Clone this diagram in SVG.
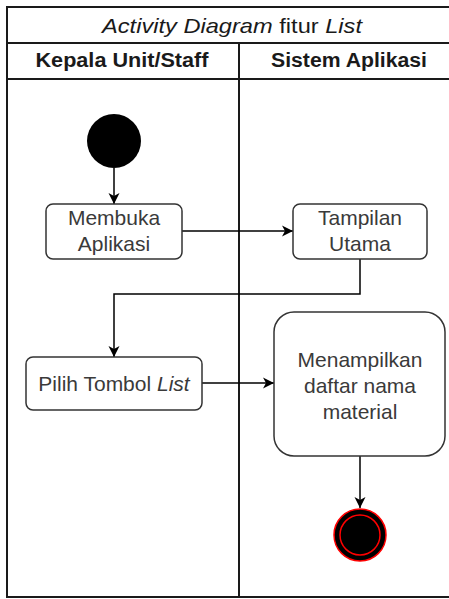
<svg xmlns="http://www.w3.org/2000/svg" width="449" height="599" viewBox="0 0 449 599">
  <style>
    .frame { fill: #ffffff; stroke: #1a1a1a; stroke-width: 2; }
    .line { fill: none; stroke: #1a1a1a; stroke-width: 2; }
    .act { fill: #ffffff; stroke: #333333; stroke-width: 1.5; }
    .lbl { font-family: "Liberation Sans", Arial, sans-serif; font-size: 21px; fill: #3a3a3a; text-anchor: middle; }
    .ttl { font-family: "Liberation Sans", Arial, sans-serif; font-size: 21px; fill: #1a1a1a; text-anchor: middle; }
    .hdr { font-family: "Liberation Sans", Arial, sans-serif; font-size: 20px; font-weight: bold; fill: #1a1a1a; text-anchor: middle; }
    .conn { fill: none; stroke: #000000; stroke-width: 1.5; }
  </style>
  <defs>
    <marker id="arrow" markerWidth="14" markerHeight="14" refX="12" refY="7" orient="auto" markerUnits="userSpaceOnUse">
      <path d="M1,1.5 L12,7 L1,12.5 L4,7 Z" fill="#000000"/>
    </marker>
  </defs>
  <rect width="449" height="599" fill="#ffffff"/>

  <!-- swimlane pool -->
  <g id="pool">
    <rect class="frame" x="7" y="7" width="450" height="590"/>
    <line class="line" x1="7" y1="43" x2="449" y2="43"/>
    <line class="line" x1="7" y1="79" x2="449" y2="79"/>
    <line class="line" x1="239" y1="43" x2="239" y2="597"/>
    <text class="ttl" x="232" y="33" textLength="260" lengthAdjust="spacingAndGlyphs"><tspan font-style="italic">Activity Diagram</tspan> fitur <tspan font-style="italic">List</tspan></text>
    <text class="hdr" x="122" y="67" textLength="173" lengthAdjust="spacingAndGlyphs">Kepala Unit/Staff</text>
    <text class="hdr" x="349" y="67" textLength="156" lengthAdjust="spacingAndGlyphs">Sistem Aplikasi</text>
  </g>

  <!-- connectors -->
  <g id="connectors">
    <line class="conn" x1="114" y1="168" x2="114" y2="204" marker-end="url(#arrow)"/>
    <line class="conn" x1="182" y1="231" x2="293" y2="231" marker-end="url(#arrow)"/>
    <polyline class="conn" points="360,259 360,294 114,294 114,357" marker-end="url(#arrow)"/>
    <line class="conn" x1="202" y1="383" x2="274" y2="383" marker-end="url(#arrow)"/>
    <line class="conn" x1="360" y1="456" x2="360" y2="508" marker-end="url(#arrow)"/>
  </g>

  <!-- start node -->
  <g id="start">
    <circle cx="114" cy="141" r="27" fill="#000000"/>
  </g>

  <g id="membuka-aplikasi">
    <rect class="act" x="46" y="204" width="136" height="55" rx="7"/>
    <text class="lbl" x="114" y="225">Membuka</text>
    <text class="lbl" x="114" y="251">Aplikasi</text>
  </g>

  <g id="tampilan-utama">
    <rect class="act" x="293" y="204" width="134" height="55" rx="7"/>
    <text class="lbl" x="360" y="225">Tampilan</text>
    <text class="lbl" x="360" y="251">Utama</text>
  </g>

  <g id="pilih-tombol-list">
    <rect class="act" x="26" y="357" width="176" height="53" rx="7"/>
    <text class="lbl" x="114" y="391">Pilih Tombol <tspan font-style="italic">List</tspan></text>
  </g>

  <g id="menampilkan-daftar">
    <rect class="act" x="274" y="312" width="171" height="144" rx="20"/>
    <text class="lbl" x="360" y="367">Menampilkan</text>
    <text class="lbl" x="360" y="393">daftar nama</text>
    <text class="lbl" x="360" y="419">material</text>
  </g>

  <!-- end node -->
  <g id="end">
    <circle cx="360" cy="535" r="26" fill="#000000" stroke="#ff0000" stroke-width="1.5"/>
    <circle cx="360" cy="535" r="20" fill="none" stroke="#ff0000" stroke-width="1.5"/>
  </g>
</svg>
